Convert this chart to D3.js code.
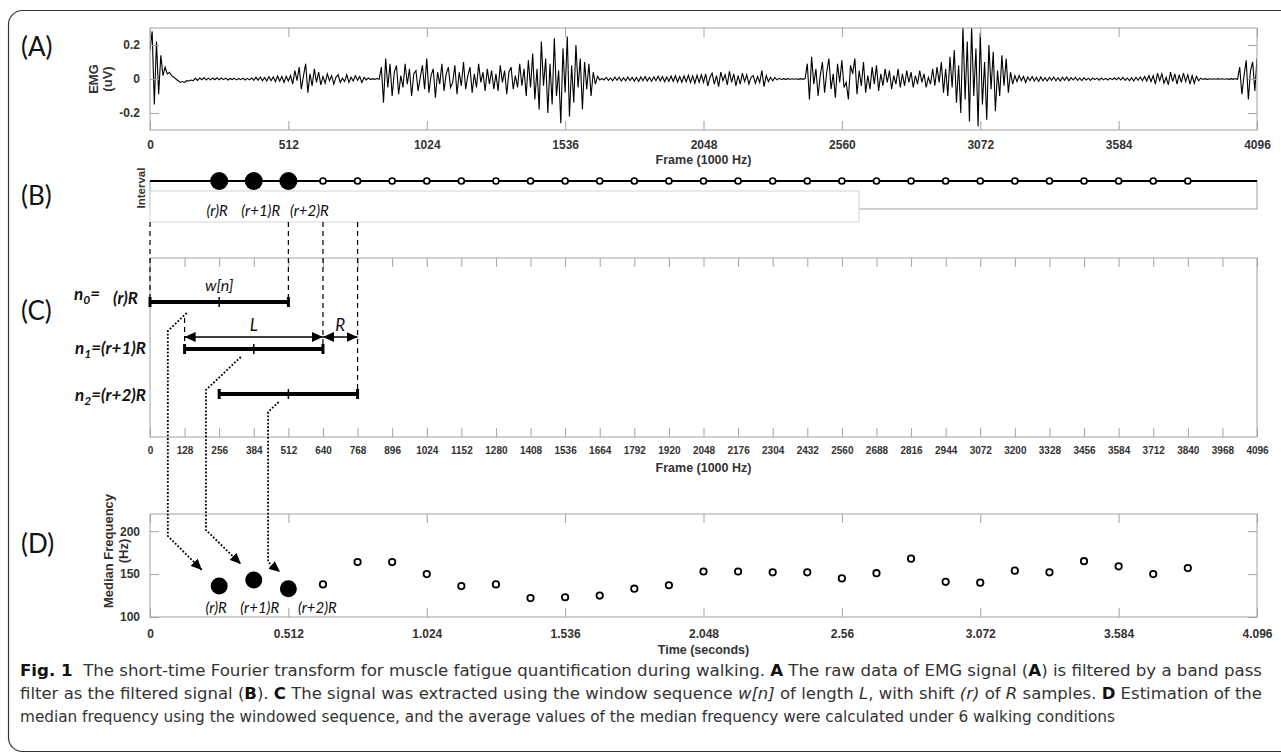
<!DOCTYPE html>
<html>
<head>
<meta charset="utf-8">
<script src="https://cdn.jsdelivr.net/npm/d3@7"></script>
<style>
body { margin: 0; background: #fff; }
svg { display: block; }
.ml { font-family: "Liberation Sans", Arial, sans-serif; font-weight: bold; fill: #333; }
.cal { font-family: Lato, "Open Sans", sans-serif; fill: #111; }
.cap { font-family: "Liberation Sans Narrow", "DejaVu Sans Condensed", sans-serif; fill: #333; font-size: 16px; }
</style>
</head>
<body>
<svg id="fig" width="1281" height="755"></svg>
<script>
// ---- data ----
// EMG samples, one every 8 frames (frame 0 .. 4096)
const emgStep = 8;
const emgValues = [
  0.17, 0.28, -0.15, 0.22, -0.09, 0.14, 0.02, 0.07, 0.03, 0.04, 0.02, 0.01, 0.0, -0.01, -0.02, -0.015,
  -0.02, -0.01, -0.012, -0.006, -0.01, 0.004, -0.008, 0.006, -0.004, 0.008, -0.006, 0.005, -0.005, 0.006, -0.004, 0.007,
  -0.005, 0.006, -0.004, 0.005, -0.006, 0.003, -0.003, 0.004, -0.005, 0.003, -0.004, 0.005, -0.006, 0.004, -0.005, 0.006,
  -0.008, 0.01, -0.007, 0.012, -0.01, 0.009, -0.012, 0.014, -0.01, 0.012, -0.015, 0.018, -0.012, 0.015, -0.02, 0.016,
  -0.012, 0.02, -0.03, 0.05, -0.01, 0.07, -0.06, 0.02, 0.09, -0.08, 0.03, -0.04, 0.06, -0.02, 0.04, -0.035,
  0.015, -0.025, 0.03, -0.01, 0.02, -0.03, 0.01, 0.025, -0.02, 0.005, -0.015, 0.025, -0.02, 0.01, -0.012, 0.02,
  -0.008, 0.015, -0.02, 0.01, -0.005, 0.006, -0.003, 0.002, -0.002, 0.003, -0.002, 0.07, -0.14, 0.12, -0.05, 0.09,
  -0.1, 0.04, 0.08, -0.09, 0.02, -0.05, 0.09, -0.03, 0.06, -0.1, 0.03, 0.05, -0.07, 0.01, 0.08, -0.06,
  0.12, -0.08, 0.02, 0.06, -0.11, 0.04, -0.03, 0.09, -0.07, 0.03, 0.07, -0.05, -0.02, 0.08, -0.09, 0.04,
  -0.04, 0.1, -0.06, 0.02, 0.07, -0.08, 0.03, -0.05, 0.09, -0.02, 0.04, -0.07, 0.06, -0.03, 0.05, -0.06,
  0.03, -0.07, 0.08, -0.02, 0.05, -0.09, 0.04, 0.07, -0.06, 0.02, -0.05, 0.09, -0.04, 0.06, -0.1, 0.11,
  -0.05, 0.15, -0.12, 0.06, -0.18, 0.22, -0.04, 0.12, -0.2, 0.09, -0.15, 0.24, -0.1, 0.05, -0.26, 0.18,
  -0.08, 0.25, -0.22, 0.08, -0.14, 0.2, -0.05, 0.12, -0.18, 0.1, -0.06, 0.09, -0.1, 0.04, -0.03, 0.015,
  -0.005, 0.004, -0.006, 0.01, -0.008, 0.006, -0.01, 0.012, -0.008, 0.01, -0.012, 0.008, -0.01, 0.012, -0.009, 0.01,
  -0.012, 0.01, -0.015, 0.012, -0.01, 0.015, -0.012, 0.01, -0.014, 0.012, -0.01, 0.016, -0.012, 0.014, -0.015, 0.012,
  -0.014, 0.018, -0.015, 0.02, -0.018, 0.015, -0.02, 0.018, -0.016, 0.022, -0.02, 0.018, -0.025, 0.022, -0.02, 0.025,
  -0.02, 0.03, -0.04, 0.01, 0.035, -0.03, 0.02, -0.045, 0.04, -0.01, 0.025, -0.035, 0.045, -0.02, 0.03, -0.04,
  0.02, -0.03, 0.035, -0.015, 0.025, -0.03, 0.01, 0.02, -0.025, 0.015, -0.02, 0.05, -0.045, 0.02, -0.015, 0.01,
  -0.01, 0.008, -0.005, 0.004, -0.003, 0.002, -0.002, 0.002, -0.001, 0.001, -0.001, 0.001, -0.002, 0.002, -0.002, 0.003,
  0.09, -0.12, 0.13, -0.03, 0.06, -0.1, 0.02, 0.1, -0.08, 0.04, 0.12, -0.06, 0.03, -0.11, 0.09, -0.02,
  0.11, -0.05, -0.02, -0.12, 0.08, 0.03, 0.12, -0.09, 0.05, -0.04, 0.1, -0.08, 0.02, -0.06, 0.07, -0.03,
  0.08, -0.07, 0.03, -0.04, 0.06, -0.02, 0.05, -0.06, 0.02, -0.03, 0.06, -0.05, 0.03, -0.04, 0.05, -0.02,
  0.04, -0.05, 0.02, -0.03, 0.05, -0.02, 0.03, -0.05, 0.01, -0.03, 0.06, -0.04, 0.07, -0.02, 0.1, -0.08,
  0.06, -0.1, 0.13, -0.05, 0.17, -0.14, 0.08, -0.2, 0.31, -0.12, 0.22, -0.25, 0.31, -0.1, 0.18, -0.28,
  0.27, -0.15, 0.1, -0.24, 0.2, -0.06, 0.16, -0.19, 0.05, -0.1, 0.14, -0.04, 0.12, -0.08, 0.04, -0.03,
  0.02, -0.015, 0.02, -0.01, 0.015, -0.02, 0.012, -0.01, 0.015, -0.012, 0.01, -0.015, 0.012, -0.01, 0.008, -0.012,
  0.01, -0.008, 0.012, -0.01, 0.008, -0.012, 0.01, -0.008, 0.012, -0.01, 0.008, -0.006, 0.01, -0.008, 0.006, -0.01,
  0.008, -0.006, 0.005, -0.008, 0.006, -0.004, 0.005, -0.007, 0.006, -0.005, 0.004, -0.006, 0.005, -0.004, 0.006, -0.005,
  0.008, -0.006, 0.01, -0.008, 0.006, -0.01, 0.008, -0.012, 0.01, -0.008, 0.012, -0.01, 0.015, -0.012, 0.02, -0.015,
  0.02, -0.03, 0.035, -0.01, 0.03, -0.025, 0.01, -0.035, 0.04, -0.015, 0.03, -0.03, 0.025, -0.02, 0.035, -0.015,
  0.025, -0.03, 0.02, -0.025, 0.015, -0.01, 0.005, -0.003, 0.002, -0.002, 0.001, -0.001, 0.001, -0.001, 0.002, -0.001,
  0.001, -0.001, 0.001, -0.002, 0.002, -0.002, 0.003, -0.003, 0.07, -0.09, 0.02, 0.11, -0.12, 0.05, 0.1, -0.07,
  0.12
];
const emgTicksX = [0, 512, 1024, 1536, 2048, 2560, 3072, 3584, 4096];
const emgTicksY = [-0.2, 0, 0.2];

// interval markers (frames)
const intervalBig = [256, 384, 512];
const intervalSmall = [640, 768, 896, 1024, 1152, 1280, 1408, 1536, 1664, 1792, 1920, 2048, 2176,
  2304, 2432, 2560, 2688, 2816, 2944, 3072, 3200, 3328, 3456, 3584, 3712, 3840];
const intervalLabels = ['(r)R', '(r+1)R', '(r+2)R'];

// windows (frames)
const winStart = [0, 128, 256];
const winEnd = [512, 640, 768];
const frameTicks = d3.range(0, 4097, 128);

// median frequency
const mfTimeBig = [0.256, 0.384, 0.512];
const mfBig = [136, 143, 133];
const mfTimeSmall = [0.64, 0.768, 0.896, 1.024, 1.152, 1.28, 1.408, 1.536, 1.664, 1.792, 1.92, 2.048, 2.176,
  2.304, 2.432, 2.56, 2.688, 2.816, 2.944, 3.072, 3.2, 3.328, 3.456, 3.584, 3.712, 3.84];
const mfSmall = [138, 164, 164, 150, 136, 138, 122, 123, 125, 133, 137, 153, 153,
  152, 152, 145, 151, 168, 141, 140, 154, 152, 165, 159, 150, 157];
const timeTicks = [0, 0.512, 1.024, 1.536, 2.048, 2.56, 3.072, 3.584, 4.096];
const timeTickLabels = ['0', '0.512', '1.024', '1.536', '2.048', '2.56', '3.072', '3.584', '4.096'];
const mfTicksY = [100, 150, 200];

// ---- layout ----
const svg = d3.select('#fig');
const left = 150, right = 1257;
const boxColor = '#a3a3a3';
const tickLen = 9;
const x = d3.scaleLinear().domain([0, 4096]).range([left, right]);
const xSec = d3.scaleLinear().domain([0, 4.096]).range([left, right]);

const defs = svg.append('defs');
defs.append('marker').attr('id', 'head')
  .attr('markerUnits', 'userSpaceOnUse').attr('markerWidth', 12).attr('markerHeight', 10)
  .attr('refX', 11).attr('refY', 5).attr('orient', 'auto-start-reverse')
  .append('path').attr('d', 'M0,0 L11,5 L0,10 Z').attr('fill', '#000');
defs.append('marker').attr('id', 'dhead')
  .attr('markerUnits', 'userSpaceOnUse').attr('markerWidth', 12).attr('markerHeight', 10)
  .attr('refX', 11).attr('refY', 5).attr('orient', 'auto')
  .append('path').attr('d', 'M0,0 L11,5 L0,10 Z').attr('fill', '#000');

// outer frame
svg.append('rect').attr('x', 8.5).attr('y', 10.5).attr('width', 1320).attr('height', 741)
  .attr('rx', 14).attr('fill', 'none').attr('stroke', '#333').attr('stroke-width', 1.2);

function panelLabel(txt, y) {
  svg.append('text').attr('class', 'cal').attr('x', 21).attr('y', y)
    .attr('font-size', 26).text(txt);
}

function matlabAxes(top, bottom, xs, xTicks, xFmt, fs, pad, ys, yTicks, yFmt) {
  const g = svg.append('g');
  g.append('rect').attr('x', left).attr('y', top).attr('width', right - left).attr('height', bottom - top)
    .attr('fill', 'none').attr('stroke', boxColor);
  const gb = g.append('g').attr('transform', `translate(0,${bottom})`)
    .call(d3.axisBottom(xs).tickValues(xTicks).tickSizeInner(-tickLen).tickSizeOuter(0)
      .tickPadding(pad).tickFormat(xFmt));
  const gt = g.append('g').attr('transform', `translate(0,${top})`)
    .call(d3.axisTop(xs).tickValues(xTicks).tickSizeInner(-tickLen).tickSizeOuter(0).tickFormat(''));
  const parts = [gb, gt];
  if (ys) {
    parts.push(g.append('g').attr('transform', `translate(${left},0)`)
      .call(d3.axisLeft(ys).tickValues(yTicks).tickSizeInner(-tickLen).tickSizeOuter(0)
        .tickPadding(10).tickFormat(yFmt)));
    parts.push(g.append('g').attr('transform', `translate(${right},0)`)
      .call(d3.axisRight(ys).tickValues(yTicks).tickSizeInner(-tickLen).tickSizeOuter(0).tickFormat('')));
  }
  parts.forEach(p => {
    p.select('.domain').remove();
    p.selectAll('line').attr('stroke', boxColor);
    p.selectAll('text').attr('class', 'ml').attr('font-size', fs);
  });
  return g;
}

function xLabel(txt, y) {
  svg.append('text').attr('class', 'ml').attr('x', (left + right) / 2).attr('y', y)
    .attr('text-anchor', 'middle').attr('dominant-baseline', 'central').attr('font-size', 12.5).text(txt);
}

function yLabel(lines, xs, cy, fs) {
  lines.forEach((t, i) => {
    svg.append('text').attr('class', 'ml').attr('font-size', fs || 12.5)
      .attr('text-anchor', 'middle').attr('dominant-baseline', 'central')
      .attr('transform', `translate(${xs[i]},${cy}) rotate(-90)`).text(t);
  });
}

// ---- (A) EMG ----
const yA = d3.scaleLinear().domain([-0.3, 0.3]).range([130, 28]);
defs.append('clipPath').attr('id', 'clipA').append('rect')
  .attr('x', left).attr('y', 28).attr('width', right - left).attr('height', 102);
svg.append('path').datum(emgValues)
  .attr('clip-path', 'url(#clipA)')
  .attr('fill', 'none').attr('stroke', '#000').attr('stroke-width', 1.1)
  .attr('d', d3.line().x((d, i) => x(i * emgStep)).y(d => yA(d)));
matlabAxes(28, 130, x, emgTicksX, d3.format('d'), 12, 10, yA, emgTicksY, d => String(d));
xLabel('Frame (1000 Hz)', 160);
yLabel(['EMG', '(uV)'], [93, 107], 79, 13);
panelLabel('(A)', 56);

// ---- (B) interval ----
svg.append('rect').attr('x', left).attr('y', 181).attr('width', right - left).attr('height', 28)
  .attr('fill', 'none').attr('stroke', boxColor);
svg.append('line').attr('x1', left).attr('x2', right).attr('y1', 181).attr('y2', 181)
  .attr('stroke', '#000').attr('stroke-width', 2.2);
svg.append('rect').attr('x', left).attr('y', 191).attr('width', 709).attr('height', 31)
  .attr('fill', '#fff').attr('stroke', '#d4d4d4');
svg.selectAll('.ib').data(intervalBig).enter().append('circle')
  .attr('cx', d => x(d)).attr('cy', 181).attr('r', 9).attr('fill', '#000');
svg.selectAll('.is').data(intervalSmall).enter().append('circle')
  .attr('cx', d => x(d)).attr('cy', 181).attr('r', 3).attr('fill', '#fff')
  .attr('stroke', '#000').attr('stroke-width', 1.7);
const labelShift = [-2, 7, 21];
svg.selectAll('.il').data(intervalBig).enter().append('text')
  .attr('class', 'cal').attr('font-style', 'italic').attr('font-size', 15)
  .attr('text-anchor', 'middle').attr('x', (d, i) => x(d) + labelShift[i]).attr('y', 216)
  .text((d, i) => intervalLabels[i]);
yLabel(['Interval'], [141], 188, 11.5);
panelLabel('(B)', 205);

// ---- (C) windows ----
matlabAxes(258, 437, x, frameTicks, d3.format('d'), 10, 10, null, null);
xLabel('Frame (1000 Hz)', 468);
panelLabel('(C)', 320);

const rowY = [302, 349, 394];
const guides = [[0, 222, 302], [512, 222, 302], [640, 222, 349], [768, 222, 394], [128, 318, 349]];
svg.selectAll('.guide').data(guides).enter().append('line')
  .attr('x1', d => x(d[0])).attr('x2', d => x(d[0])).attr('y1', d => d[1]).attr('y2', d => d[2])
  .attr('stroke', '#000').attr('stroke-width', 1.2).attr('stroke-dasharray', '5,4');

winStart.forEach((s, i) => {
  const e = winEnd[i], y = rowY[i], m = (s + e) / 2;
  svg.append('line').attr('x1', x(s)).attr('x2', x(e)).attr('y1', y).attr('y2', y)
    .attr('stroke', '#000').attr('stroke-width', 4);
  [s, e].forEach(v => svg.append('rect').attr('x', x(v) - 1.5).attr('y', y - 5)
    .attr('width', 3).attr('height', 10).attr('fill', '#000'));
  svg.append('line').attr('x1', x(m)).attr('x2', x(m)).attr('y1', y - 5).attr('y2', y + 5)
    .attr('stroke', '#000').attr('stroke-width', 1.5);
});

// L and R arrows
svg.append('line').attr('x1', x(winStart[1])).attr('x2', x(winEnd[1])).attr('y1', 337).attr('y2', 337)
  .attr('stroke', '#000').attr('stroke-width', 1.3)
  .attr('marker-start', 'url(#head)').attr('marker-end', 'url(#head)');
svg.append('line').attr('x1', x(winEnd[1])).attr('x2', x(winEnd[2])).attr('y1', 337).attr('y2', 337)
  .attr('stroke', '#000').attr('stroke-width', 1.3)
  .attr('marker-start', 'url(#head)').attr('marker-end', 'url(#head)');
svg.append('text').attr('class', 'cal').attr('font-style', 'italic').attr('font-size', 17)
  .attr('text-anchor', 'middle').attr('x', x((winStart[1] + winEnd[1]) / 2)).attr('y', 331).text('L');
svg.append('text').attr('class', 'cal').attr('font-style', 'italic').attr('font-size', 17)
  .attr('text-anchor', 'middle').attr('x', x((winEnd[1] + winEnd[2]) / 2)).attr('y', 331).text('R');
svg.append('text').attr('class', 'cal').attr('font-style', 'italic').attr('font-size', 16)
  .attr('text-anchor', 'middle').attr('x', x((winStart[0] + winEnd[0]) / 2)).attr('y', 291).text('w[n]');

function nLabel(sub, rest, y, xEnd) {
  const t = svg.append('text').attr('class', 'cal').attr('font-weight', 'bold').attr('font-style', 'italic')
    .attr('font-size', 17).attr('text-anchor', 'end').attr('x', xEnd).attr('y', y);
  t.append('tspan').text('n');
  t.append('tspan').attr('dy', 4).attr('font-size', 12).text(sub);
  t.append('tspan').attr('dy', -4).text(rest);
}
nLabel('0', '=', 300, 100);
svg.append('text').attr('class', 'cal').attr('font-weight', 'bold').attr('font-style', 'italic')
  .attr('font-size', 17).attr('text-anchor', 'end').attr('x', 138).attr('y', 304).text('(r)R');
nLabel('1', '=(r+1)R', 354, 146);
nLabel('2', '=(r+2)R', 401, 146);

// ---- (D) median frequency ----
const yD = d3.scaleLinear().domain([100, 220]).range([617, 514]);
matlabAxes(514, 617, xSec, timeTicks, (d, i) => timeTickLabels[i], 12, 12, yD, mfTicksY, d => String(d));
xLabel('Time (seconds)', 650);
yLabel(['Median Frequency', '(Hz)'], [108, 123], 551, 13);
panelLabel('(D)', 553);

svg.selectAll('.mb').data(mfBig).enter().append('circle')
  .attr('cx', (d, i) => xSec(mfTimeBig[i])).attr('cy', d => yD(d)).attr('r', 8.5).attr('fill', '#000');
svg.selectAll('.ms').data(mfSmall).enter().append('circle')
  .attr('cx', (d, i) => xSec(mfTimeSmall[i])).attr('cy', d => yD(d)).attr('r', 3.2)
  .attr('fill', '#fff').attr('stroke', '#000').attr('stroke-width', 1.8);
const dLabelShift = [-3, 6, 29];
svg.selectAll('.ml2').data(mfBig).enter().append('text')
  .attr('class', 'cal').attr('font-style', 'italic').attr('font-size', 15)
  .attr('text-anchor', 'middle').attr('x', (d, i) => xSec(mfTimeBig[i]) + dLabelShift[i]).attr('y', 613)
  .text((d, i) => intervalLabels[i]);

// dotted connectors from windows to the median frequency points
const connectors = [
  [[136, 313], [66, 331], [66, 536], [192, 570]],
  [[336, 357], [207, 390], [207, 530], [336, 564]],
  [[476, 402], [437, 412], [437, 562], [481, 572]]
];
svg.selectAll('.conn').data(connectors).enter().append('path')
  .attr('d', d => d3.line().x(p => x(p[0])).y(p => p[1])(d))
  .attr('fill', 'none').attr('stroke', '#000').attr('stroke-width', 1.8)
  .attr('stroke-dasharray', '1.8,1.8').attr('marker-end', 'url(#dhead)');

// ---- caption ----
const capLines = [
  { y: 676, len: 1242, parts: [['Fig. 1', 'b'], ['  The short-time Fourier transform for muscle fatigue quantification during walking. ', ''],
    ['A', 'b'], [' The raw data of EMG signal (', ''], ['A', 'b'], [') is filtered by a band pass', '']] },
  { y: 699, len: 1242, parts: [['filter as the filtered signal (', ''], ['B', 'b'], ['). ', ''], ['C', 'b'],
    [' The signal was extracted using the window sequence ', ''], ['w[n]', 'i'], [' of length ', ''], ['L', 'i'],
    [', with shift ', ''], ['(r)', 'i'], [' of ', ''], ['R', 'i'], [' samples. ', ''], ['D', 'b'], [' Estimation of the', '']] },
  { y: 722, len: 1095, parts: [['median frequency using the windowed sequence, and the average values of the median frequency were calculated under 6 walking conditions', '']] }
];
capLines.forEach(line => {
  const t = svg.append('text').attr('class', 'cap').attr('x', 20).attr('y', line.y)
    .attr('textLength', line.len).attr('lengthAdjust', 'spacingAndGlyphs').attr('xml:space', 'preserve');
  line.parts.forEach(([s, st]) => {
    const sp = t.append('tspan').text(s);
    if (st === 'b') sp.attr('font-weight', 'bold').attr('fill', '#111');
    if (st === 'i') sp.attr('font-style', 'italic');
  });
});
</script>
</body>
</html>
